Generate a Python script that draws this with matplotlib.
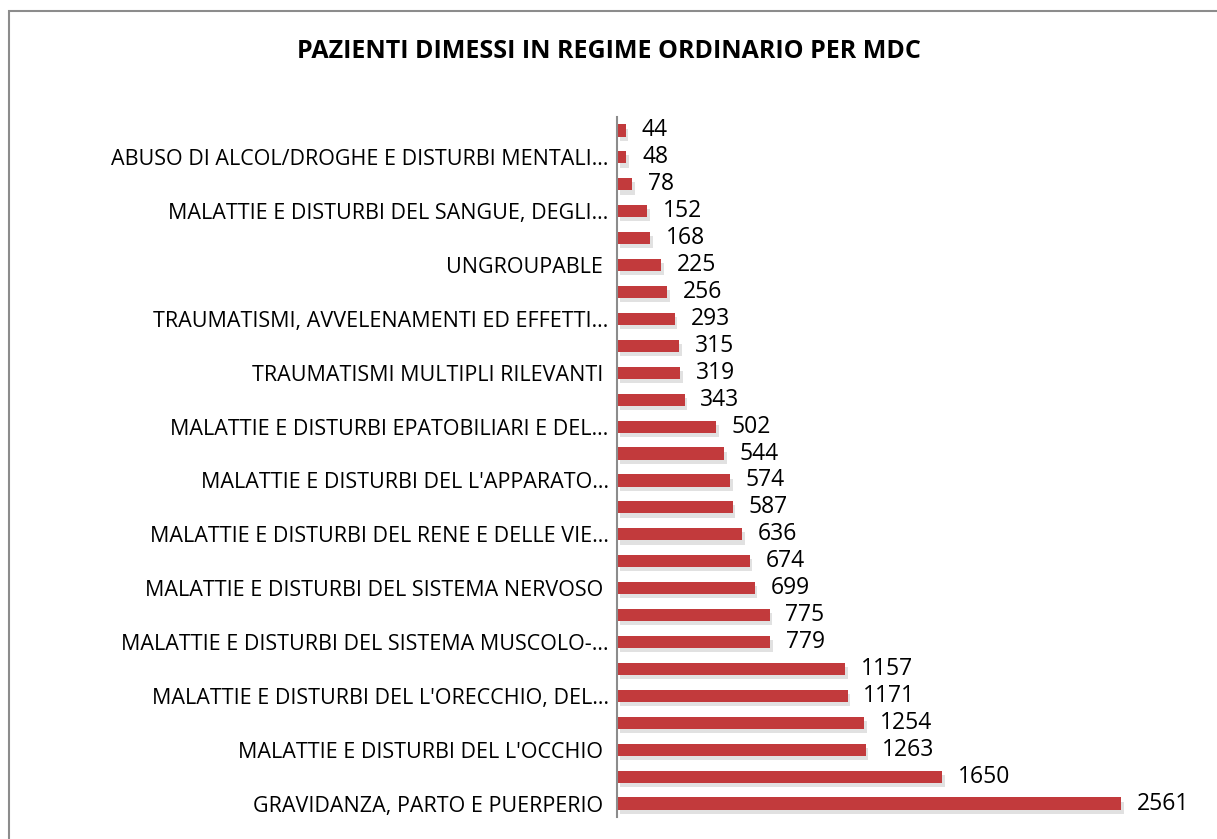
import matplotlib.pyplot as plt
import matplotlib.patheffects as pe
from matplotlib.patches import Rectangle

plt.rcParams['font.family'] = ['Open Sans', 'DejaVu Sans']

# valori dal basso verso l'alto
valori = [2561, 1650, 1263, 1254, 1171, 1157, 779, 775, 699, 674, 636, 587,
          574, 544, 502, 343, 319, 315, 293, 256, 225, 168, 152, 78, 48, 44]
etichette = [
    "GRAVIDANZA, PARTO E PUERPERIO ", "",
    "MALATTIE E DISTURBI DEL L'OCCHIO ", "",
    "MALATTIE E DISTURBI DEL L'ORECCHIO, DEL…", "",
    "MALATTIE E DISTURBI DEL SISTEMA MUSCOLO-…", "",
    "MALATTIE E DISTURBI DEL SISTEMA NERVOSO ", "",
    "MALATTIE E DISTURBI DEL RENE E DELLE VIE…", "",
    "MALATTIE E DISTURBI DEL L'APPARATO…", "",
    "MALATTIE E DISTURBI EPATOBILIARI E DEL…", "",
    "TRAUMATISMI MULTIPLI RILEVANTI ", "",
    "TRAUMATISMI, AVVELENAMENTI ED EFFETTI…", "",
    "UNGROUPABLE ", "",
    "MALATTIE E DISTURBI DEL SANGUE, DEGLI…", "",
    "ABUSO DI ALCOL/DROGHE E DISTURBI MENTALI…", "",
]
titolo = "PAZIENTI DIMESSI IN REGIME ORDINARIO PER MDC"

W, H = 1217, 839
fig = plt.figure(figsize=(W / 100, H / 100), dpi=100)

# cornice del grafico
fig.patches.append(Rectangle((9 / W, -0.1), 1.2, 1 - 11 / H + 0.1,
                             transform=fig.transFigure, fill=False,
                             edgecolor='#8c8c8c', linewidth=1.5))

ax = fig.add_axes([617 / W, 1 - 817 / H, (1190 - 617) / W, (817 - 117) / H])
pos = list(range(len(valori)))
bars = ax.barh(pos, valori, height=0.45, color='#C23A3C')
for b in bars:
    b.set_path_effects([pe.SimplePatchShadow(offset=(2, -3), shadow_rgbFace='#aaaaaa', alpha=0.35),
                        pe.Normal()])

ax.set_xlim(0, 2910)
ax.set_ylim(-0.5, len(valori) - 0.5)
ax.set_yticks(pos)
ax.set_yticklabels(etichette, fontsize=15.5)
ax.tick_params(axis='y', length=0, pad=6)
ax.set_xticks([])
for s in ['top', 'right', 'bottom']:
    ax.spines[s].set_visible(False)
ax.spines['left'].set_color('#8c8c8c')
ax.spines['left'].set_linewidth(1.5)

for p, v in zip(pos, valori):
    ax.text(v + 80, p, str(v), va='center', ha='left', fontsize=16.5)

fig.text(0.5, 1 - 52 / H, titolo, ha='center', va='center',
         fontsize=18, fontweight='bold')

fig.savefig('out.png', dpi=100)
